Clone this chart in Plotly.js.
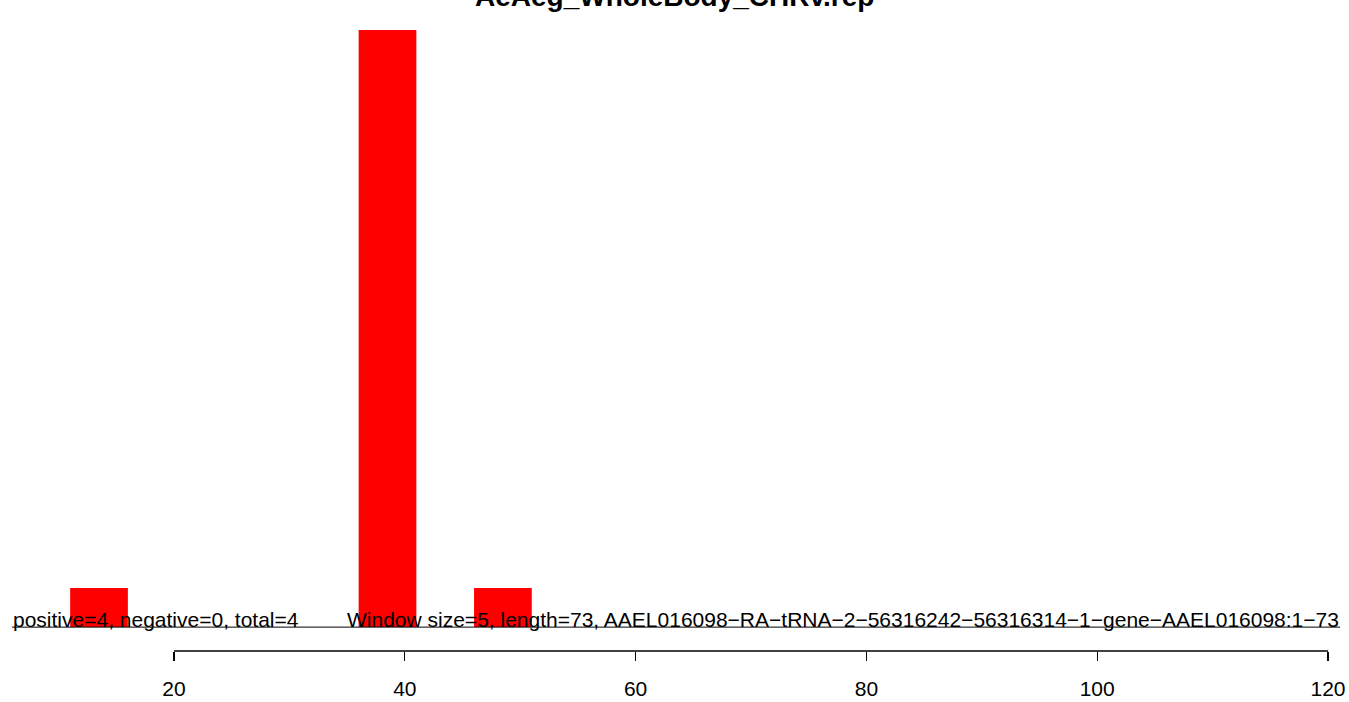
<!DOCTYPE html>
<html>
<head>
<meta charset="utf-8">
<script src="https://cdn.plot.ly/plotly-3.0.1.min.js"></script>
<style>html,body{margin:0;padding:0;background:#fff;}#chart{width:1349px;height:702px;}</style>
</head>
<body>
<div id="chart"></div>
<script>
// Data
const titleText = "AeAeg_WholeBody_CHRv.rep";
const binCenters = [13.5, 38.5, 48.5];
const binWidths = [5, 5, 5];
const binValues = [1, 15.31, 1];
const tickValues = [20, 40, 60, 80, 100, 120];
const statsText = "positive=4, negative=0, total=4";
const infoText = "Window size=5, length=73, AAEL016098\u2212RA\u2212tRNA\u22122\u221256316242\u221256316314\u22121\u2212gene\u2212AAEL016098:1\u221273";

const font = "Liberation Sans, Arial, Helvetica, sans-serif";
const yMax = Math.max(...binValues);
const pad = 0.04 * yMax;

const trace = {
  type: "bar",
  x: binCenters,
  y: binValues,
  width: binWidths,
  marker: {color: "#ff0000", line: {width: 0}},
  hoverinfo: "x+y"
};

const layout = {
  width: 1349,
  height: 702,
  margin: {l: 12, r: 9, t: 6, b: 51},
  paper_bgcolor: "#ffffff",
  plot_bgcolor: "#ffffff",
  showlegend: false,
  xaxis: {
    range: [5.96, 121.04],
    showgrid: false, zeroline: false, showline: false,
    tickvals: tickValues,
    ticktext: tickValues.map(String),
    ticks: "outside", ticklen: 9, tickwidth: 1.3, tickcolor: "#000",
    ticklabelstandoff: 10,
    tickfont: {family: font, size: 21, color: "#000"}
  },
  yaxis: {
    range: [-pad, yMax + pad],
    visible: false, showgrid: false, zeroline: false
  },
  shapes: [
    {type: "line", xref: "x", yref: "paper", x0: tickValues[0], x1: tickValues[tickValues.length-1], y0: 0, y1: 0,
     line: {color: "#000", width: 1.3}, layer: "above"},
    {type: "line", xref: "paper", yref: "y", x0: 0, x1: 1, y0: 0, y1: 0,
     line: {color: "#000", width: 1}, layer: "above"}
  ],
  annotations: [
    {text: "<b>" + titleText + "</b>", xref: "paper", yref: "paper", x: 0.4985, y: 1, xanchor: "center", yanchor: "bottom",
     showarrow: false, font: {family: font, size: 28, color: "#000"}, yshift: -7, borderpad: 0},
    {text: statsText, xref: "paper", yref: "y", x: 0, y: 0, xanchor: "left", yanchor: "bottom",
     showarrow: false, font: {family: font, size: 21, color: "#000"}, yshift: -5, borderpad: 0},
    {text: infoText, xref: "paper", yref: "y", x: 1, y: 0, xanchor: "right", yanchor: "bottom",
     showarrow: false, font: {family: font, size: 21, color: "#000"}, yshift: -5, borderpad: 0}
  ]
};

Plotly.newPlot("chart", [trace], layout, {displayModeBar: false, staticPlot: true});
</script>
</body>
</html>
